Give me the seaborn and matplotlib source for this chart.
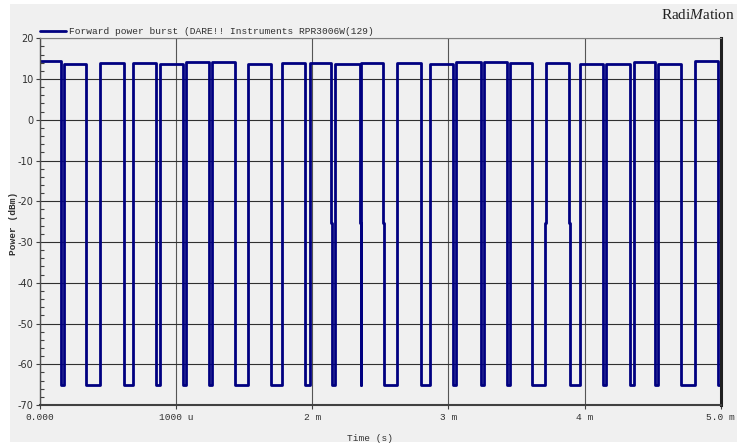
import pandas as pd
import seaborn as sns
import matplotlib.pyplot as plt
from matplotlib.patches import Rectangle
from matplotlib.lines import Line2D
from matplotlib.ticker import MultipleLocator

# Pulse: time in ms, level in dBm
pulse_start_ms = [0.000, 0.173, 0.444, 0.683, 0.885, 1.072, 1.263, 1.528, 1.781, 1.983, 2.167, 2.358,
                  2.622, 2.868, 3.059, 3.261, 3.452, 3.720, 3.970, 4.154, 4.361, 4.542, 4.813]
pulse_end_ms = [0.154, 0.338, 0.617, 0.852, 1.047, 1.245, 1.429, 1.700, 1.950, 2.141, 2.349, 2.520,
                2.795, 3.034, 3.236, 3.427, 3.614, 3.886, 4.132, 4.336, 4.520, 4.712, 4.980]
pulse_level_dbm = [14.5, 13.7, 14.0, 14.0, 13.8, 14.1, 14.1, 13.8, 14.0, 14.0, 13.7, 14.0,
                   14.0, 13.8, 14.1, 14.1, 14.0, 14.0, 13.8, 13.8, 14.1, 13.8, 14.5]
off_level_dbm = -65.0
step_level_dbm = -25.3          # single sample on some edges
fall_step_pulses = [9, 10, 11, 17]
rise_step_pulses = [17]
sweep_end_ms = 5.0

x_ticks = [0, 1, 2, 3, 4, 5]
x_tick_labels = ['0.000', '1000 u', '2 m', '3 m', '4 m', '5.0 m']
y_ticks = list(range(-70, 21, 10))
legend_label = 'Forward power burst (DARE!! Instruments RPR3006W(129)'

# Kurvenpunkte aufbauen (Rechteckpulse)
dt = 0.007
t, p = [], []
for i, (ts, te, lv) in enumerate(zip(pulse_start_ms, pulse_end_ms, pulse_level_dbm)):
    if i == 0:
        t.append(ts); p.append(lv)
    else:
        if i in rise_step_pulses:
            t += [ts - dt, ts - dt, ts]
            p += [off_level_dbm, step_level_dbm, step_level_dbm]
        else:
            t.append(ts); p.append(off_level_dbm)
        t.append(ts); p.append(lv)
    t.append(te); p.append(lv)
    if i in fall_step_pulses:
        t += [te, te + dt, te + dt]
        p += [step_level_dbm, step_level_dbm, off_level_dbm]
    else:
        t.append(te); p.append(off_level_dbm)
t.append(sweep_end_ms); p.append(off_level_dbm)
df = pd.DataFrame({'t': t, 'p': p})

sns.set_theme(style='white')
plt.rcParams['axes.unicode_minus'] = False
plt.rcParams['mathtext.fontset'] = 'custom'
plt.rcParams['mathtext.rm'] = 'Liberation Serif'
plt.rcParams['mathtext.it'] = 'Liberation Serif:italic'
plt.rcParams['font.family'] = ['DejaVu Sans']

W, H = 737, 448
fig = plt.figure(figsize=(W / 100, H / 100), dpi=100, facecolor='white')
fig.patches.append(Rectangle((10 / W, 6.3 / H), 1 - 10 / W, (443.5 - 6.3) / H,
                             transform=fig.transFigure, facecolor='#f0f0f0', edgecolor='none', zorder=-10))

ax = fig.add_axes([40 / W, 43 / H, 680.7 / W, 366.7 / H])
ax.set_facecolor('#f0f0f0')
ax.set_zorder(1)

sns.lineplot(data=df, x='t', y='p', sort=False, estimator=None, color='#000080', lw=2.0, ax=ax)

ax.set_xlim(0, 5)
ax.set_ylim(-70, 20)
ax.set_xlabel('')
ax.set_ylabel('')

ax.set_xticks(x_ticks)
ax.set_xticklabels(x_tick_labels, family='Liberation Mono', fontsize=6.8, color='#303030')
ax.set_yticks(y_ticks)
ax.set_yticklabels([str(v) for v in y_ticks], fontsize=7, color='#303030')
ax.yaxis.set_minor_locator(MultipleLocator(2))
ax.tick_params(axis='x', direction='out', length=3, width=0.8, color='#404040', pad=3, bottom=True)
ax.tick_params(axis='y', which='major', direction='out', length=3, width=0.8, color='#404040', pad=1.5, left=True)
ax.tick_params(axis='y', which='minor', direction='in', length=3, width=0.8, color='#404040', left=True)

ax.set_axisbelow(True)
ax.yaxis.grid(True, which='major', color='#303030', lw=0.8)
ax.xaxis.grid(True, color='#555555', lw=0.8)

ax.spines['left'].set_color('#505050'); ax.spines['left'].set_linewidth(1.0)
ax.spines['bottom'].set_color('#404040'); ax.spines['bottom'].set_linewidth(1.5)
ax.spines['top'].set_color('#808080'); ax.spines['top'].set_linewidth(0.8)
ax.spines['right'].set_color('#202020'); ax.spines['right'].set_linewidth(2.2)

handle = Line2D([], [], color='#000080', lw=2.0)
ax.legend([handle], [legend_label], loc='lower left', bbox_to_anchor=(40 / W, 412 / H),
          bbox_transform=fig.transFigure, frameon=False, borderpad=0, borderaxespad=0,
          handlelength=2.7, handletextpad=0.35,
          prop={'family': 'Liberation Mono', 'size': 6.8}, labelcolor='#303030')

fig.text(370 / W, (H - 438) / H, 'Time (s)', family='Liberation Mono', fontsize=6.8,
         color='#303030', ha='center', va='center')
fig.text(14 / W, (H - 223) / H, 'Power (dBm)', family='Liberation Mono', fontsize=6.8,
         color='#303030', ha='center', va='center', rotation=90, weight='bold')
fig.text(735 / W, (H - 15) / H, r'Radi$\mathit{M}$ation', family='Liberation Serif',
         fontsize=11, color='#202020', ha='right', va='center')

fig.savefig('out.png', dpi=100, facecolor=fig.get_facecolor())
